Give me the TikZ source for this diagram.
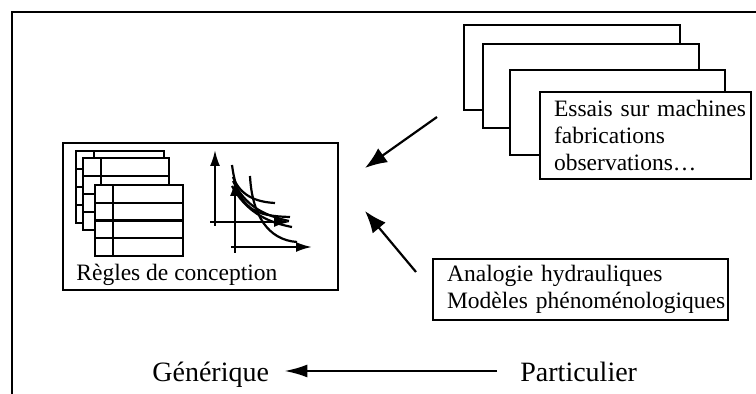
\documentclass[tikz,border=0pt]{standalone}
\usepackage{fontspec}
\setmainfont{Liberation Serif}
\usetikzlibrary{arrows.meta, calc}

\begin{document}
\begin{tikzpicture}[x=0.5pt, y=-0.5pt,
    every node/.style={font=\fontsize{11.75pt}{13.5pt}\selectfont},
    card/.style={rectangle, draw=black, fill=white, line width=1.1pt, anchor=north west, inner sep=0pt},
    textcard/.style={card, align=left, inner xsep=7pt},
    tablebox/.style={draw=black, fill=white, line width=1.1pt},
    axis/.style={draw, line width=1.1pt, -{Latex[length=8pt, width=5pt]}},
    curve/.style={draw, line width=1.1pt},
    line/.style={draw, line width=1.1pt, -{Latex[length=11pt, width=8.5pt]}},
    flatline/.style={draw, line width=1.1pt, -{Latex[length=11.5pt, width=6.5pt]}},
    bigtext/.style={anchor=base west, inner sep=0pt, font=\fontsize{14pt}{16pt}\selectfont}]

    \useasboundingbox (0,0) rectangle (756,394);
    \draw[line width=1.1pt] (12,400) -- (12,12) -- (760,12);

    % design rules box
    \node [card, minimum width=137.5pt, minimum height=73.5pt] (regles) at (62,142) {};
    \node [anchor=base west, inner sep=0pt] (reglestext) at (76,281) {Règles de conception};

    \foreach \tx/\ty/\tw/\th in {76/151/88/72, 83/158/86/72, 95/185/88/71} {
      \draw[tablebox] (\tx,\ty) rectangle ++(\tw,\th);
      \foreach \k in {1,2,3}
        \draw[line width=1.1pt] (\tx,\ty+\k*\th/4) -- ++(\tw,0);
      \draw[line width=1.1pt] (\tx+18,\ty) -- ++(0,\th);
    }

    \draw[axis] (215,226) -- (215,150);
    \draw[axis] (210,222) -- (290,222);
    \draw[axis] (235,253) -- (235,180);
    \draw[axis] (231,247) -- (312,247);
    \draw[curve] (232,165) .. controls (238,210) and (255,216) .. (290,217);
    \draw[curve] (233,177) .. controls (240,195) and (255,202) .. (275,203);
    \draw[curve] (233,181) .. controls (245,205) and (262,215) .. (289,221);
    \draw[curve] (232,186) .. controls (245,210) and (265,222) .. (292,227);
    \draw[curve] (250,176) .. controls (252,215) and (268,240) .. (297,242);

    % stack of test cards
    \node [card, minimum width=108pt, minimum height=42.5pt] (card1) at (463,24) {};
    \node [card, minimum width=108pt, minimum height=42pt] (card2) at (482,43) {};
    \node [card, minimum width=107.5pt, minimum height=42.5pt] (card3) at (509,69) {};
    \node [textcard, text width=91.5pt, minimum height=43.5pt] (essais) at (539,91)
      {\mbox{Essais sur machines}\\fabrications\\observations…};

    \node [textcard, text width=133.5pt, minimum height=30.5pt] (analogie) at (432,258)
      {\mbox{Analogie hydrauliques}\\\mbox{Modèles phénoménologiques}};

    \coordinate (fromessais) at (437,117);
    \coordinate (toregles1) at (365,168);
    \coordinate (fromanalogie) at (416,272);
    \coordinate (toregles2) at (365,211);
    \path [line] (fromessais) -- (toregles1);
    \path [line] (fromanalogie) -- (toregles2);

    \node [bigtext] (generique) at (152,382) {Générique};
    \node [bigtext] (particulier) at (520,382) {Particulier};
    \path [flatline] ([shift={(-11.5pt,5.5pt)}]particulier.base west) -- ([shift={(7.5pt,5.5pt)}]generique.base east);
\end{tikzpicture}
\end{document}
